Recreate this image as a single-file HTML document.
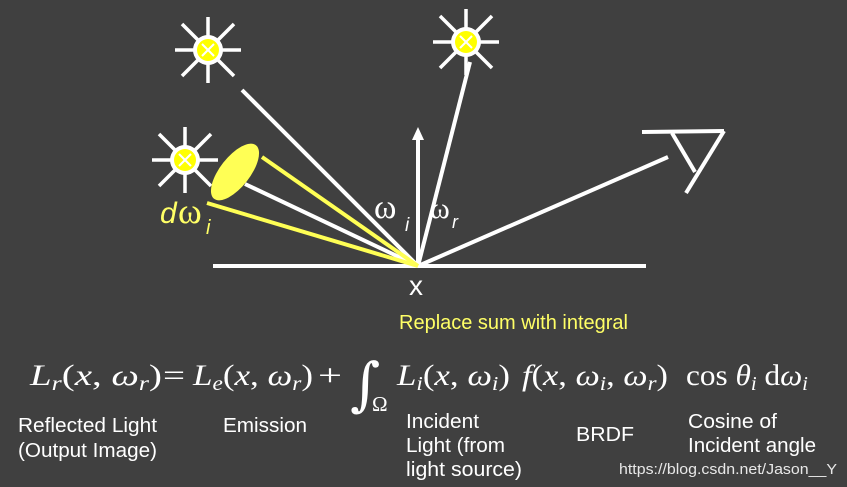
<!DOCTYPE html>
<html><head><meta charset="utf-8"><style>
html,body{margin:0;padding:0;background:#404040;}
svg{display:block}
.s{font-family:"Liberation Sans",sans-serif;fill:#fff;font-size:20px}
.m{font-family:"Liberation Serif",serif;fill:#fff;font-size:30px}
</style></head><body>
<svg width="847" height="487" viewBox="0 0 847 487" xmlns="http://www.w3.org/2000/svg">
<rect width="847" height="487" fill="#404040"/>
<defs>
<g id="sun">
<g stroke="#fff" stroke-width="3.5">
<line x1="-33" y1="0" x2="33" y2="0"/><line x1="0" y1="-33" x2="0" y2="33"/>
<line x1="-26" y1="-26" x2="26" y2="26"/><line x1="-26" y1="26" x2="26" y2="-26"/>
</g>
<circle r="15" fill="#fff"/>
<circle r="11" fill="#ffff00"/>
<g stroke="#fff" stroke-width="2"><line x1="-6" y1="-6" x2="6" y2="6"/><line x1="-6" y1="6" x2="6" y2="-6"/></g>
</g>
</defs>
<use href="#sun" x="208" y="50"/>
<use href="#sun" x="466" y="42"/>
<use href="#sun" x="185" y="160"/>
<g stroke="#fff" stroke-width="4" fill="none">
<line x1="213" y1="266" x2="646" y2="266"/>
<line x1="242" y1="90" x2="418" y2="266"/>
<line x1="418" y1="266" x2="470" y2="62"/>
<line x1="418" y1="266" x2="418" y2="138"/>
<line x1="418" y1="266" x2="668" y2="157"/>
<line x1="245" y1="184" x2="418" y2="266"/>
<line x1="642" y1="132" x2="724" y2="131"/>
<line x1="724" y1="131" x2="686" y2="193"/>
<line x1="672" y1="133" x2="695" y2="172"/>
</g>
<polygon points="418,127 412,140 424,140" fill="#fff"/>
<ellipse cx="235" cy="172" rx="15" ry="34" transform="rotate(38 235 172)" fill="#ffff55"/>
<g stroke="#ffff55" stroke-width="4">
<line x1="262" y1="157" x2="418" y2="266"/>
<line x1="207" y1="203" x2="418" y2="266"/>
</g>
<text x="160" y="223" font-family="Liberation Sans,sans-serif" font-size="30" font-style="italic" fill="#ffff66">d</text>
<text x="178" y="223" font-family="Liberation Serif,serif" font-size="36" fill="#ffff66">ω</text>
<text x="206" y="234" font-family="Liberation Sans,sans-serif" font-size="20" font-style="italic" fill="#ffff66">i</text>
<text x="374" y="218" font-family="Liberation Serif,serif" font-size="34" fill="#fff">ω</text>
<text x="405" y="231" font-family="Liberation Sans,sans-serif" font-size="19" font-style="italic" fill="#fff">i</text>
<text x="430" y="218" font-family="Liberation Serif,serif" font-size="30" fill="#fff">ω</text>
<text x="452" y="228" font-family="Liberation Sans,sans-serif" font-size="18" font-style="italic" fill="#fff">r</text>
<text x="409" y="295" font-family="Liberation Sans,sans-serif" font-size="28" fill="#fff">x</text>
<text x="399" y="329" font-family="Liberation Sans,sans-serif" font-size="20" fill="#ffff66">Replace sum with integral</text>
<g class="m">
<text x="30" y="385" textLength="132" lengthAdjust="spacingAndGlyphs"><tspan font-style="italic">L</tspan><tspan font-size="20" dy="5" font-style="italic">r</tspan><tspan dy="-5">(</tspan><tspan font-style="italic">x</tspan><tspan>, </tspan><tspan font-style="italic">ω</tspan><tspan font-size="20" dy="5" font-style="italic">r</tspan><tspan dy="-5">)</tspan></text>
<text x="163" y="385" textLength="22" lengthAdjust="spacingAndGlyphs">=</text>
<text x="193" y="385" textLength="120" lengthAdjust="spacingAndGlyphs"><tspan font-style="italic">L</tspan><tspan font-size="20" dy="5" font-style="italic">e</tspan><tspan dy="-5">(</tspan><tspan font-style="italic">x</tspan><tspan>, </tspan><tspan font-style="italic">ω</tspan><tspan font-size="20" dy="5" font-style="italic">r</tspan><tspan dy="-5">)</tspan></text>
<text x="318" y="385" textLength="24" lengthAdjust="spacingAndGlyphs">+</text>
<text x="397" y="385" textLength="113" lengthAdjust="spacingAndGlyphs"><tspan font-style="italic">L</tspan><tspan font-size="20" dy="5" font-style="italic">i</tspan><tspan dy="-5">(</tspan><tspan font-style="italic">x</tspan><tspan>, </tspan><tspan font-style="italic">ω</tspan><tspan font-size="20" dy="5" font-style="italic">i</tspan><tspan dy="-5">)</tspan></text>
<text x="522" y="385" textLength="146" lengthAdjust="spacingAndGlyphs"><tspan font-style="italic">f</tspan><tspan>(</tspan><tspan font-style="italic">x</tspan><tspan>, </tspan><tspan font-style="italic">ω</tspan><tspan font-size="20" dy="5" font-style="italic">i</tspan><tspan dy="-5">, </tspan><tspan font-style="italic">ω</tspan><tspan font-size="20" dy="5" font-style="italic">r</tspan><tspan dy="-5">)</tspan></text>
<text x="686" y="385" textLength="122" lengthAdjust="spacingAndGlyphs"><tspan>cos </tspan><tspan font-style="italic">θ</tspan><tspan font-size="20" dy="5" font-style="italic">i</tspan><tspan dy="-5"> d</tspan><tspan font-style="italic">ω</tspan><tspan font-size="20" dy="5" font-style="italic">i</tspan></text>
</g>
<text x="350" y="404" font-family="DejaVu Serif,serif" font-size="58" fill="#fff">∫</text>
<text x="372" y="411" font-family="Liberation Serif,serif" font-size="21" fill="#fff">Ω</text>
<text class="s" x="18" y="432" textLength="139" lengthAdjust="spacingAndGlyphs">Reflected Light</text>
<text class="s" x="18" y="457" textLength="139" lengthAdjust="spacingAndGlyphs">(Output Image)</text>
<text class="s" x="223" y="432" textLength="84" lengthAdjust="spacingAndGlyphs">Emission</text>
<text class="s" x="406" y="428" textLength="73" lengthAdjust="spacingAndGlyphs">Incident</text>
<text class="s" x="406" y="452" textLength="99" lengthAdjust="spacingAndGlyphs">Light (from</text>
<text class="s" x="406" y="476" textLength="116" lengthAdjust="spacingAndGlyphs">light source)</text>
<text class="s" x="576" y="441" textLength="58" lengthAdjust="spacingAndGlyphs">BRDF</text>
<text class="s" x="688" y="428" textLength="89" lengthAdjust="spacingAndGlyphs">Cosine of</text>
<text class="s" x="688" y="452" textLength="128" lengthAdjust="spacingAndGlyphs">Incident angle</text>
<text x="619" y="474" font-family="Liberation Sans,sans-serif" font-size="15" fill="#e8e8e8" textLength="218" lengthAdjust="spacingAndGlyphs">https://blog.csdn.net/Jason__Y</text>
</svg>
</body></html>
